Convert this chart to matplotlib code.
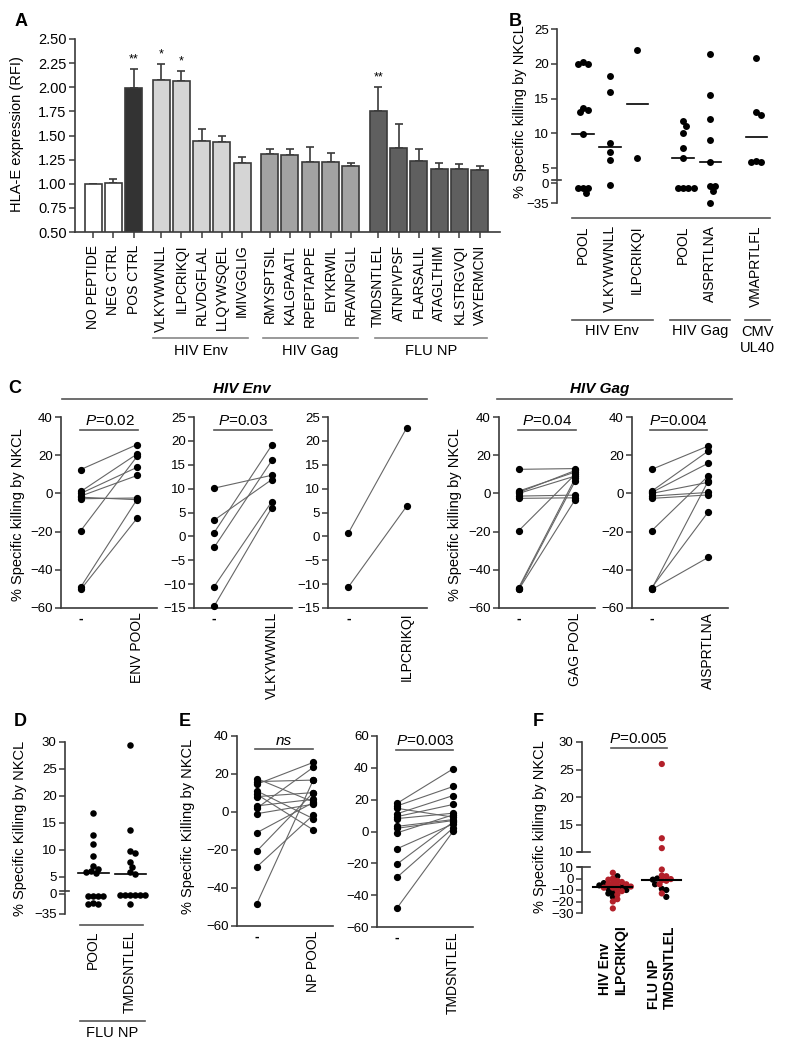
import numpy as np
import matplotlib
matplotlib.use('Agg')
import matplotlib.pyplot as plt
from matplotlib.lines import Line2D

# ---------------- data ----------------
# A: HLA-E expression (RFI), bar height and upper error (SEM)
a_labels = ['NO PEPTIDE', 'NEG CTRL', 'POS CTRL',
            'VLKYWWNLL', 'ILPCRIKQI', 'RLVDGFLAL', 'LLQYWSQEL', 'IMIVGGLIG',
            'RMYSPTSIL', 'KALGPAATL', 'RPEPTAPPE', 'EIYKRWIL', 'RFAVNPGLL',
            'TMDSNTLEL', 'ATNPIVPSF', 'FLARSALIL', 'ATAGLTHIM', 'KLSTRGVQI', 'VAYERMCNI']
a_group = [0] * 3 + [1] * 5 + [2] * 5 + [3] * 6
a_vals = [1.00, 1.01, 1.99, 2.07, 2.06, 1.44, 1.43, 1.21, 1.31, 1.30, 1.23, 1.23, 1.18,
          1.75, 1.37, 1.24, 1.15, 1.15, 1.14]
a_sem = [0.0, 0.04, 0.20, 0.17, 0.105, 0.125, 0.065, 0.07, 0.05, 0.06, 0.15, 0.09, 0.03,
         0.25, 0.25, 0.12, 0.065, 0.055, 0.04]
a_stars = ['', '', '**', '*', '*', '', '', '', '', '', '', '', '', '**', '', '', '', '', '']
a_group_names = ['HIV Env', 'HIV Gag', 'FLU NP']

# B: % specific killing per peptide
b_labels = ['POOL', 'VLKYWWNLL', 'ILPCRIKQI', 'POOL', 'AISPRTLNA', 'VMAPRTLFL']
b_group = [0, 0, 0, 1, 1, 2]
b_vals = [[20.2, 20.0, 19.9, 13.7, 13.3, 13.0, 9.85, -8, -8, -8, -17],
          [18.2, 16.0, 8.6, 7.35, 6.15, -3.5],
          [22.0, 6.5],
          [11.7, 11.0, 10.0, 7.9, 6.5, -8, -8, -8, -8],
          [21.4, 15.5, 12.05, 9.0, 5.9, -5, -5, -14, -35],
          [20.8, 13.0, 12.6, 5.8, 6.0, 5.8]]
b_median = [9.85, 8.0, 14.2, 6.5, 5.9, 9.4]

# C: paired killing, no peptide vs peptide
c_env_pool_pre = [12.5, 1.0, 0.0, -1.4, -2.8, -2.0, -19.5, -49.0, -50.3]
c_env_pool_post = [25.6, 20.7, 13.7, 9.4, -2.4, -3.3, 19.5, -3.0, -12.9]
c_vlky_pre = [10.1, 3.4, 0.8, -2.3, -10.5, -14.6]
c_vlky_post = [12.8, 11.9, 19.1, 15.9, 7.3, 6.0]
c_ilpc_pre = [0.7, -10.6]
c_ilpc_post = [22.7, 6.3]
c_gag_pre = [12.6, 1.2, 0.5, 0.0, -1.4, -2.6, -19.5, -49.3, -50.0, -50.3]
c_gag_pool_post = [13.0, 11.2, 12.0, 9.1, -0.9, -2.3, 10.0, 8.0, 6.5, -3.2]
c_aisp_post = [24.8, 22.2, 15.8, 5.8, 0.5, -0.8, 9.1, -9.7, 6.5, -33.5]

# D: FLU NP dot plot
d_labels = ['POOL', 'TMDSNTLEL']
d_vals = [[16.9, 12.8, 11.2, 8.8, 7.0, 6.5, 6.2, 5.9, 5.7, -3, -3, -4, -3, -17, -16, -17],
          [29.4, 13.7, 9.8, 9.4, 7.8, 6.9, 5.9, 5.5, -2, -2, -2, -2, -2, -2, -17]]

# E: paired FLU NP
e_pre = [17.6, 16.0, 14.6, 11.1, 9.3, 8.1, 3.2, 2.0, -0.9, -10.9, -20.6, -28.9, -48.3]
e_np_pool_post = [5.3, 16.8, 26.1, -3.5, -9.4, 10.2, 6.7, 23.5, 4.1, 5.0, 10.2, -1.6, 16.8]
e_tmds_post = [39.4, 28.3, 9.0, 22.6, 17.0, 11.5, 7.5, 6.9, 10.5, 4.8, 6.0, 2.3, 0.2]

# F: HIV Env vs FLU NP, black and red donors
f_labels = ['HIV Env\nILPCRIKQI', 'FLU NP\nTMDSNTLEL']
f_black = [[2, -4, -6, -7, -9, -12, -13, -16, -10],
           [0, -1, -5, -10, -16, -9]]
f_red = [[5, 0, -1, -2, -3, -4, -5, -5, -6, -7, -8, -8, -10, -11, -14, -18, -20, -26],
         [26, 12.5, 10.7, 7.8, 2.6, 2.0, -0.5, -1.5, -2, -5, -13]]

# ---------------- style ----------------
plt.rcParams['font.family'] = ['Liberation Sans', 'DejaVu Sans']
plt.rcParams['mathtext.fontset'] = 'custom'
plt.rcParams['mathtext.rm'] = 'Liberation Sans'
plt.rcParams['mathtext.it'] = 'Liberation Sans:italic'
plt.rcParams['font.size'] = 10

AX = '#3a3a3a'
LN = '#555555'
RED = '#b3202a'
W, H = 792, 1050
fig = plt.figure(figsize=(W / 100, H / 100), dpi=100)


def box(l, t, r, b):
    return fig.add_axes([l / W, 1 - b / H, (r - l) / W, (b - t) / H])


def hline(x0, x1, y, lw=1.2, color=LN):
    fig.add_artist(Line2D([x0 / W, x1 / W], [1 - y / H, 1 - y / H], lw=lw,
                          color=color, transform=fig.transFigure))


def ftext(x, y, s, **kw):
    kw.setdefault('ha', 'center')
    kw.setdefault('va', 'center')
    fig.text(x / W, 1 - y / H, s, **kw)


def style(ax, size=9.5):
    for s in ['top', 'right']:
        ax.spines[s].set_visible(False)
    for s in ['left', 'bottom']:
        ax.spines[s].set_color(AX)
        ax.spines[s].set_linewidth(1.2)
    ax.tick_params(color=AX, width=1.1, length=4, labelsize=size, pad=2)
    ax.patch.set_alpha(0)


def xlabels(ax, labels, pad, size=10, weight='normal'):
    ax.set_xticks(range(len(labels)))
    ax.set_xticklabels(labels, rotation=90, fontsize=size, fontweight=weight)
    ax.tick_params(axis='x', length=0, pad=pad)
    for t in ax.get_xticklabels():
        t.set_multialignment('left')
        if t.get_text() == '-':
            t.set_rotation(0)
            t.set_fontweight('bold')


def swarm(vals, ppu, d, xppu):
    y = np.asarray(vals, float) * ppu
    xs = np.zeros(len(y))
    md = d * 0.75
    done = []
    for i in np.argsort(-y):
        k = 0
        while True:
            c = ((k + 1) // 2) * (1 if k % 2 else -1) * md / 2
            if all((c - xs[j]) ** 2 + (y[i] - y[j]) ** 2 >= md ** 2 for j in done):
                break
            k += 1
        xs[i] = c
        done.append(i)
    return xs / xppu


def broken_dots(up, low, pos, vals, split, ppu_up, ppu_low, d, xppu, ms, color='black'):
    v = np.asarray(vals, float)
    for ax, mask, ppu in [(up, v > split, ppu_up), (low, v <= split, ppu_low)]:
        if mask.any():
            off = swarm(v[mask], ppu, d, xppu)
            ax.plot(pos + off, v[mask], 'o', ms=ms, color=color, mec='none',
                    clip_on=False, zorder=3)


def paired(ax, pre, post, ylim, yticks, labels, ms=4.2):
    style(ax)
    for p, q in zip(pre, post):
        ax.plot([0, 1], [p, q], color='#666666', lw=0.8, zorder=1)
    ax.plot([0] * len(pre), pre, 'o', ms=ms, color='black', zorder=3, clip_on=False)
    ax.plot([1] * len(post), post, 'o', ms=ms, color='black', zorder=3, clip_on=False)
    ax.set_ylim(*ylim)
    ax.set_yticks(yticks)
    ax.set_xlim(-0.35, 1.35)
    xlabels(ax, labels, pad=3)


# ---------------- A ----------------
ax = box(75, 39, 500, 232)
style(ax, size=10.5)
a_pos = np.arange(len(a_vals)) + 0.35 * np.array(a_group)
fills = {0: None, 1: '#d5d5d5', 2: '#a3a3a3', 3: '#5f5f5f'}
a_colors = [('#333333' if lab == 'POS CTRL' else 'white') if g == 0 else fills[g]
            for lab, g in zip(a_labels, a_group)]
ax.bar(a_pos, a_vals, width=0.84, color=a_colors, edgecolor=AX, linewidth=1.2, zorder=2)
ax.errorbar(a_pos, a_vals, yerr=[np.zeros(len(a_sem)), a_sem], fmt='none', ecolor=AX,
            elinewidth=1.2, capsize=3, capthick=1.2, zorder=1)
for p, v, e, s in zip(a_pos, a_vals, a_sem, a_stars):
    if s:
        ax.text(p, v + e + 0.04, s, ha='center', va='bottom', fontsize=9)
ax.set_ylim(0.5, 2.5)
ax.set_yticks(np.arange(0.5, 2.51, 0.25))
ax.set_yticklabels(['%.2f' % t for t in np.arange(0.5, 2.51, 0.25)])
ax.set_xlim(-0.89, 20.05)
ax.set_xticks(a_pos)
ax.set_xticklabels(a_labels, rotation=90, fontsize=10)
ax.tick_params(axis='x', length=4, pad=5)
ftext(17, 134, 'HLA-E expression (RFI)', rotation=90, fontsize=10.5)
ftext(21, 22, 'A', fontsize=13, fontweight='bold')
for name, (x0, x1) in zip(a_group_names, [(153, 248), (263, 358), (375, 487)]):
    hline(x0, x1, 338, color='#888888')
    ftext((x0 + x1) / 2, 351, name, fontsize=10.5)

# ---------------- B ----------------
bu = box(557, 29, 775, 181)
bl = box(557, 183, 775, 203)
for a in (bu, bl):
    style(a)
    a.set_xlim(-0.96, 7.1)
bu.spines['bottom'].set_visible(False)
bl.spines['bottom'].set_visible(False)
bu.tick_params(axis='x', bottom=False, labelbottom=False)
bu.set_ylim(3.13, 25)
bu.set_yticks([5, 10, 15, 20, 25])
bl.set_ylim(-35, 0)
bl.set_yticks([-35, 0])
b_pos = np.arange(len(b_labels)) + 0.7 * np.array(b_group)
for p, v, m in zip(b_pos, b_vals, b_median):
    broken_dots(bu, bl, p, v, 2, 6.95, 0.57, 7, 27, 5)
    bu.plot([p - 0.39, p + 0.39], [m, m], color='black', lw=1.2, zorder=2)
bl.set_xticks(b_pos)
bl.set_xticklabels(b_labels, rotation=90, fontsize=10)
bl.tick_params(axis='x', length=0, pad=16)
hline(552, 561, 180, color=AX)
hline(572, 770, 218)
for x0, x1 in [(572, 653), (670, 730), (745, 770)]:
    hline(x0, x1, 320)
ftext(612, 331, 'HIV Env', fontsize=10.5)
ftext(700, 331, 'HIV Gag', fontsize=10.5)
ftext(757, 340, 'CMV\nUL40', fontsize=10.5, linespacing=1.25)
ftext(520, 112, '% Specific killing by NKCL', rotation=90, fontsize=10.5)
ftext(515, 21, 'B', fontsize=13, fontweight='bold')

# ---------------- C ----------------
ftext(15, 389, 'C', fontsize=13, fontweight='bold')
ftext(242, 389, 'HIV Env', fontsize=11, fontweight='bold', style='italic')
hline(62, 427, 399)
ftext(600, 389, 'HIV Gag', fontsize=11, fontweight='bold', style='italic')
hline(497, 732, 399)

c1 = box(61, 417, 157, 608)
paired(c1, c_env_pool_pre, c_env_pool_post, (-60, 40), range(-60, 41, 20), ['-', 'ENV POOL'])
c2 = box(194, 417, 292, 608)
paired(c2, c_vlky_pre, c_vlky_post, (-15, 25), range(-15, 26, 5), ['-', 'VLKYWWNLL'])
c3 = box(328, 417, 427, 608)
paired(c3, c_ilpc_pre, c_ilpc_post, (-15, 25), range(-15, 26, 5), ['-', 'ILPCRIKQI'])
c4 = box(499, 417, 595, 608)
paired(c4, c_gag_pre, c_gag_pool_post, (-60, 40), range(-60, 41, 20), ['-', 'GAG POOL'])
c5 = box(632, 417, 728, 608)
paired(c5, c_gag_pre, c_aisp_post, (-60, 40), range(-60, 41, 20), ['-', 'AISPRTLNA'])

for xc, x0, x1, s in [(110, 80, 138, '$\\mathit{P}$=0.02'), (243, 214, 272, '$\\mathit{P}$=0.03'),
                      (547, 518, 576, '$\\mathit{P}$=0.04'), (678, 650, 707, '$\\mathit{P}$=0.004')]:
    ftext(xc, 421, s, fontsize=11)
    hline(x0, x1, 430)
ftext(18, 515, '% Specific killing by NKCL', rotation=90, fontsize=10.5)
ftext(455, 515, '% Specific killing by NKCL', rotation=90, fontsize=10.5)

# ---------------- D ----------------
du = box(65, 742, 150, 892)
dl = box(65, 894, 150, 914)
for a in (du, dl):
    style(a)
    a.set_xlim(-0.76, 1.54)
du.spines['bottom'].set_visible(False)
dl.spines['bottom'].set_visible(False)
du.tick_params(axis='x', bottom=False, labelbottom=False)
du.set_ylim(2.22, 30)
du.set_yticks([5, 10, 15, 20, 25, 30])
dl.set_ylim(-35, 0)
dl.set_yticks([-35, 0])
for i, v in enumerate(d_vals):
    broken_dots(du, dl, i, v, 2, 5.4, 0.57, 6.5, 37, 4.7)
    m = np.median(v)
    du.plot([i - 0.42, i + 0.42], [m, m], color='black', lw=1.2, zorder=2)
xlabels(dl, d_labels, pad=12)
hline(60, 69, 891, color=AX)
hline(80, 143, 925)
hline(80, 145, 1021)
ftext(112, 1033, 'FLU NP', fontsize=10.5)
ftext(20, 828, '% Specific Killing by NKCL', rotation=90, fontsize=10.5)
ftext(20, 722, 'D', fontsize=13, fontweight='bold')

# ---------------- E ----------------
e1 = box(237, 736, 333, 926)
paired(e1, e_pre, e_np_pool_post, (-60, 40), range(-60, 41, 20), ['-', 'NP POOL'])
e2 = box(377, 736, 473, 927)
paired(e2, e_pre, e_tmds_post, (-60, 60), range(-60, 61, 20), ['-', 'TMDSNTLEL'])
ftext(284, 741, 'ns', fontsize=11, style='italic')
hline(255, 313, 749)
ftext(425, 741, '$\\mathit{P}$=0.003', fontsize=11)
hline(396, 453, 750)
ftext(188, 826, '% Specific Killing by NKCL', rotation=90, fontsize=10.5)
ftext(185, 722, 'E', fontsize=13, fontweight='bold')

# ---------------- F ----------------
fu = box(582, 742, 700, 852)
fl = box(582, 867, 700, 913)
for a in (fu, fl):
    style(a)
    a.set_xlim(-0.63, 1.78)
    a.spines['bottom'].set_visible(False)
fu.tick_params(axis='x', bottom=False, labelbottom=False)
fu.set_ylim(10, 30)
fu.set_yticks([10, 15, 20, 25, 30])
fl.set_ylim(-30, 10)
fl.set_yticks([-30, -20, -10, 0, 10])
for i, (bk, rd) in enumerate(zip(f_black, f_red)):
    allv = np.array(bk + rd, float)
    cols = np.array(['black'] * len(bk) + [RED] * len(rd))
    for a, mask, ppu in [(fu, allv > 10, 5.5), (fl, allv <= 10, 1.15)]:
        if mask.any():
            off = swarm(allv[mask], ppu, 6, 49)
            a.scatter(i + off, allv[mask], s=20, c=cols[mask], edgecolors='none',
                      clip_on=False, zorder=3)
    m = np.median(allv)
    fl.plot([i - 0.4, i + 0.4], [m, m], color='black', lw=1.5, zorder=4)
xlabels(fl, f_labels, pad=9, size=10, weight='bold')
hline(578, 590, 852, color=AX)
hline(578, 590, 867, color=AX)
ftext(638, 739, '$\\mathit{P}$=0.005', fontsize=11)
hline(611, 667, 748)
ftext(540, 827, '% Specific killing by NKCL', rotation=90, fontsize=10.5)
ftext(538, 722, 'F', fontsize=13, fontweight='bold')

fig.savefig('out.png', dpi=100)
